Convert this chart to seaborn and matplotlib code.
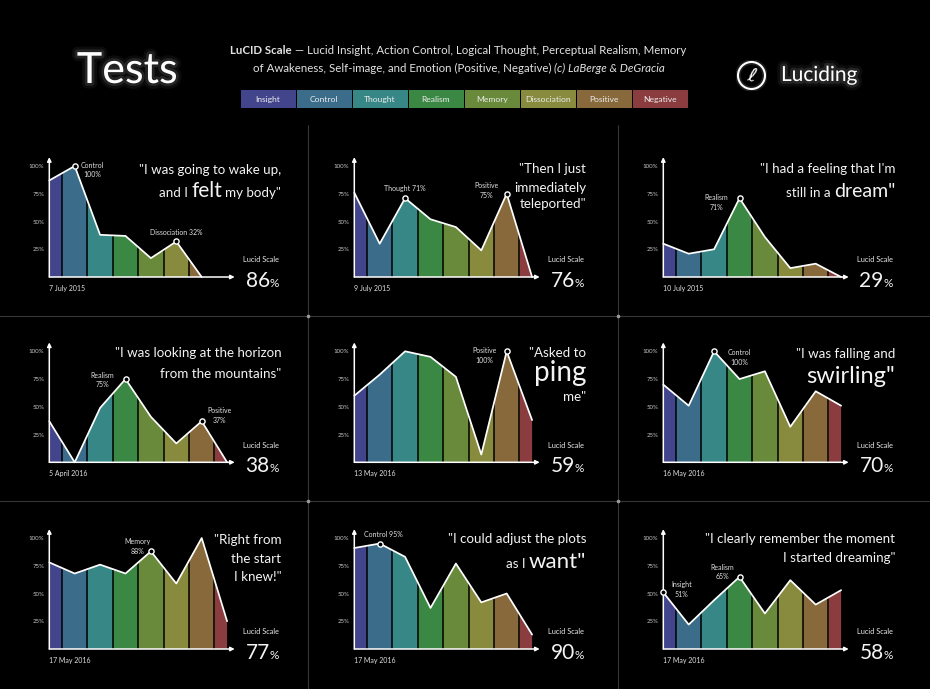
import numpy as np
import matplotlib
matplotlib.use("Agg")
import matplotlib.pyplot as plt
import matplotlib.patheffects as pe
import seaborn as sns
from matplotlib.colors import ListedColormap
from matplotlib.patches import PathPatch, Rectangle, Circle
from matplotlib.lines import Line2D

# ---------------- data ----------------
categories = ["Insight", "Control", "Thought", "Realism", "Memory",
              "Dissociation", "Positive", "Negative"]
cat_colors = ["#43458c", "#3b6d8b", "#378787", "#3a8843", "#698a3a",
              "#888a3e", "#88693b", "#8a3c3e"]

dates = ["7 July 2015", "9 July 2015", "10 July 2015", "5 April 2016",
         "13 May 2016", "16 May 2016", "17 May 2016", "17 May 2016", "17 May 2016"]
lucid_scores = [86, 76, 29, 38, 59, 70, 77, 90, 58]

values_7jul2015 = [87, 100, 38, 37, 17, 32, 0, np.nan]
values_9jul2015 = [76, 30, 71, 52, 45, 24, 75, 0]
values_10jul2015 = [30, 21, 25, 71, 36, 8, 12, 0]
values_5apr2016 = [37, 0, 49, 75, 41, 17, 37, 0]
values_13may2016 = [60, 79, 100, 95, 77, 7, 100, 38]
values_16may2016 = [70, 51, 100, 75, 82, 32, 64, 51]
values_17may2016_a = [78, 68, 76, 68, 88, 59, 100, 25]
values_17may2016_b = [91, 95, 83, 37, 77, 42, 50, 13]
values_17may2016_c = [51, 22, 44, 65, 32, 62, 40, 53]
panel_values = [values_7jul2015, values_9jul2015, values_10jul2015,
                values_5apr2016, values_13may2016, values_16may2016,
                values_17may2016_a, values_17may2016_b, values_17may2016_c]

highlights = [
    [(1, "Control\n100%"), (5, "Dissociation 32%")],
    [(2, "Thought 71%"), (6, "Positive\n75%")],
    [(3, "Realism\n71%")],
    [(3, "Realism\n75%"), (6, "Positive\n37%")],
    [(6, "Positive\n100%")],
    [(2, "Control\n100%")],
    [(4, "Memory\n88%")],
    [(1, "Control 95%")],
    [(0, "Insight\n51%"), (3, "Realism\n65%")],
]

quotes = [
    [[('"I was going to wake up,', 0)], [('and I', 0), (' felt', 1), (' my body"', 0)]],
    [[('"Then I just', 0)], [('immediately', 0)], [('teleported"', 0)]],
    [[('"I had a feeling that I\'m', 0)], [('still in a', 0), (' dream"', 1)]],
    [[('"I was looking at the horizon', 0)], [('from the mountains"', 0)]],
    [[('"Asked to', 0)], [('ping', 1)], [('me"', 0)]],
    [[('"I was falling and', 0)], [('swirling"', 1)]],
    [[('"Right from', 0)], [('the start', 0)], [('I knew!"', 0)]],
    [[('"I could adjust the plots', 0)], [('as I', 0), (' want"', 1)]],
    [[('"I clearly remember the moment', 0)], [('I started dreaming"', 0)]],
]

y_ticks = [25, 50, 75, 100]
y_tick_labels = ["25%", "50%", "75%", "100%"]

# ---------------- layout / style ----------------
W, H, DPI = 930, 689, 100
sns.set_theme(style="dark", rc={"figure.facecolor": "black", "axes.facecolor": "black",
                                "savefig.facecolor": "black", "text.color": "white"})
plt.rcParams["font.family"] = ["Lato", "DejaVu Sans"]

fig = plt.figure(figsize=(W / DPI, H / DPI), dpi=DPI)
renderer = fig.canvas.get_renderer()


def fx(x):
    return x / W


def fy(y):
    return 1 - y / H


def space_width(props):
    a = fig.text(0, 0, "x x", **props)
    b = fig.text(0, 0, "xx", **props)
    w = a.get_window_extent(renderer).width - b.get_window_extent(renderer).width
    a.remove()
    b.remove()
    return w


def rich(x, y, parts, ha="right", va="baseline", color="white", gap_props=None):
    items = []
    for text, props in parts:
        gap = text.startswith(" ")
        p = dict(props)
        col = p.pop("color", color)
        kern = p.pop("kern", 0)
        t = fig.text(0, fy(y), text.strip(), ha="left", va=va, color=col, **p)
        w = t.get_window_extent(renderer).width
        g = space_width(gap_props or p) if gap else 0
        items.append((t, w, g + kern))
    total = sum(w + g for _, w, g in items)
    cur = x - total if ha == "right" else (x - total / 2 if ha == "center" else x)
    for t, w, g in items:
        cur += g
        t.set_x(fx(cur))
        cur += w


# separators
sep_col = "#363636"
for xs in (308, 618):
    fig.add_artist(Line2D([fx(xs), fx(xs)], [fy(125), fy(689)], color=sep_col, lw=0.8,
                          transform=fig.transFigure))
for ys in (316, 501):
    fig.add_artist(Line2D([0, 1], [fy(ys), fy(ys)], color=sep_col, lw=0.8,
                          transform=fig.transFigure))
for xs in (308, 618):
    for ys in (316, 501):
        fig.add_artist(Line2D([fx(xs)], [fy(ys)], marker="o", ms=1.6, color="#9a9a9a",
                              lw=0, transform=fig.transFigure))

# header
glow = [pe.Stroke(linewidth=8, foreground="white", alpha=0.05),
        pe.Stroke(linewidth=4, foreground="white", alpha=0.1), pe.Normal()]
fig.text(fx(127), fy(71), "Tests", fontsize=31, color="white", ha="center", va="center",
         path_effects=glow)

sub = {"fontsize": 8.3, "color": "#e2e2e2"}
rich(458, 50, [("LuCID Scale", dict(sub, fontweight="bold")),
               (" — Lucid Insight, Action Control, Logical Thought, Perceptual Realism, Memory", sub)],
     ha="center", va="center")
rich(459, 68, [("of Awakeness, Self-image, and Emotion (Positive, Negative)", sub),
               (" (c) LaBerge & DeGracia", dict(sub, style="italic"))],
     ha="center", va="center")

for i, (cat, col) in enumerate(zip(categories, cat_colors)):
    x = 240 + i * 56
    fig.add_artist(Rectangle((fx(x + 0.5), fy(108)), 55 / W, 18 / H, facecolor=col,
                             edgecolor="none", transform=fig.transFigure))
    fig.text(fx(x + 28), fy(99.5), cat, fontsize=6.1, color="#ececec", ha="center", va="center")

logo_ax = fig.add_axes([fx(736), fy(91), 31 / W, 31 / H])
logo_ax.set_xlim(0, 31)
logo_ax.set_ylim(0, 31)
logo_ax.set_aspect("equal")
logo_ax.axis("off")
logo_ax.add_patch(Circle((15.5, 15.5), 13.5, fill=False, ec="white", lw=1.5,
                         path_effects=[pe.Stroke(linewidth=4, foreground="white", alpha=0.12), pe.Normal()]))
logo_ax.text(15.5, 15, "ℓ", fontsize=14, color="white", ha="center", va="center",
             family="DejaVu Sans", rotation=-15)
fig.text(fx(781), fy(75), "Luciding", fontsize=15, color="white", ha="left", va="center",
         path_effects=glow)

# panels
col_x0 = [49.3, 354.3, 663.3]
row_y0 = [277.0, 462.3, 649.0]
PX_CAT, PX_PCT = 25.4, 1.11
XMIN, XMAX, YMIN, YMAX = -0.15, 7.6, -5, 112

label_offsets = [
    [(18, 4), (0, -9)],
    [(0, -10), (-20, -3)],
    [(-23, 4)],
    [(-23, 1), (18, -6)],
    [(-22, 4)],
    [(25, 6)],
    [(-13, -5)],
    [(4, -9)],
    [(18, -3), (-17, -5)],
]
emph_sizes = [15, None, 14, None, 20, 17, None, 16, None]
quote_baselines = [[-103, -80], [-104, -85, -69], [-104, -80], [-105, -84], [-105, -81, -61],
                   [-104, -79], [-105, -86, -68], [-106, -81], [-106, -87]]
cmap = ListedColormap(cat_colors)
positions = np.arange(len(categories))
QFONT = dict(fontweight="normal", color="#f4f4f4")
QSIZE = 9.6

for k in range(9):
    r, c = divmod(k, 3)
    x0, y0 = col_x0[c], row_y0[r]
    left = x0 + XMIN * PX_CAT
    bottom = y0 - YMIN * PX_PCT
    ax = fig.add_axes([fx(left), fy(bottom), (XMAX - XMIN) * PX_CAT / W, (YMAX - YMIN) * PX_PCT / H])
    ax.set_facecolor("none")
    for s in ax.spines.values():
        s.set_visible(False)

    vals = np.array(panel_values[k], dtype=float)
    ok = ~np.isnan(vals)
    xs, ys = positions[ok], vals[ok]

    poly = ax.fill_between(xs, 0, ys, facecolor="none", edgecolor="none")
    patch = PathPatch(poly.get_paths()[0], transform=ax.transData, facecolor="none", edgecolor="none")
    ax.add_patch(patch)
    im = ax.imshow(positions[None, :], extent=(-0.5, 7.5, 0, 100), cmap=cmap, vmin=-0.5, vmax=7.5,
                   aspect="auto", interpolation="nearest", origin="lower")
    im.set_clip_path(patch)
    vl = ax.vlines(positions[:-1] + 0.5, 0, 100, colors="black", lw=1.1)
    vl.set_clip_path(patch)

    sns.lineplot(x=xs, y=ys, ax=ax, color="white", lw=1.25, legend=False)

    ax.annotate("", xy=(7.3, 0), xytext=(0, 0),
                arrowprops=dict(arrowstyle="-|>", color="white", lw=1.1, mutation_scale=6,
                                shrinkA=0, shrinkB=0))
    ax.annotate("", xy=(0, 108), xytext=(0, 0),
                arrowprops=dict(arrowstyle="-|>", color="white", lw=1.1, mutation_scale=6,
                                shrinkA=0, shrinkB=0))

    for (ci, lab), (dx, dy) in zip(highlights[k], label_offsets[k]):
        ax.scatter([positions[ci]], [vals[ci]], s=14, facecolor="black", edgecolor="white",
                   linewidth=1.0, zorder=5, clip_on=False)
        ax.annotate(lab, xy=(positions[ci], vals[ci]), xytext=(dx, -dy), textcoords="offset pixels",
                    ha="center", va="center", fontsize=5.0, color="#e0e0e0", linespacing=1.45)

    ax.set_xlim(XMIN, XMAX)
    ax.set_ylim(YMIN, YMAX)
    ax.set_xticks([])
    ax.set_yticks(y_ticks)
    ax.set_yticklabels(y_tick_labels)
    ax.tick_params(axis="y", length=0, pad=0.9, labelsize=4.4, labelcolor="#c4c4c4")
    ax.grid(False)

    ax.annotate(dates[k], xy=(0, 0), xytext=(0, -11), textcoords="offset pixels",
                ha="left", va="center", fontsize=5.0, color="#e0e0e0")

    fig.text(fx(x0 + 230), fy(y0 - 17), "Lucid Scale", fontsize=5.3, color="#ececec",
             ha="right", va="center")
    rich(x0 + 230, y0 + 10, [(str(lucid_scores[k]), dict(QFONT, fontsize=15)),
                            ("%", dict(QFONT, fontsize=8.5, kern=0.3))], ha="right")

    for line, base in zip(quotes[k], quote_baselines[k]):
        parts = []
        for txt, em in line:
            size = emph_sizes[k] if em else QSIZE
            parts.append((txt, dict(QFONT, fontsize=size)))
        rich(x0 + 232, y0 + base, parts, ha="right", gap_props=dict(fontsize=QSIZE))

fig.savefig("out.png", dpi=DPI, facecolor="black")
